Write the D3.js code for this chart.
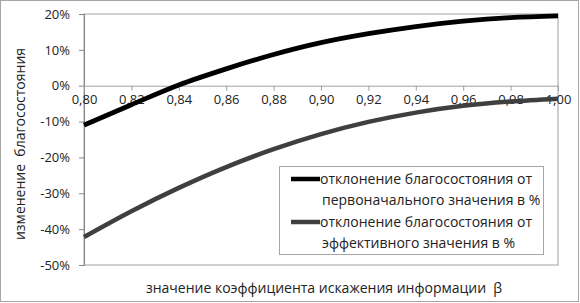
<!DOCTYPE html>
<html><head><meta charset="utf-8">
<script src="https://cdn.jsdelivr.net/npm/d3@7"></script>
<style>
html,body{margin:0;padding:0;background:#fff;}
svg{display:block;font-family:"Open Sans",sans-serif;}
text{white-space:pre;}
</style></head>
<body><svg id="c" width="580" height="303"></svg>
<script>
const betas = [0.80,0.82,0.84,0.86,0.88,0.90,0.92,0.94,0.96,0.98,1.00];
const seriesInitial = [-11.0,-5.3,0.2,4.7,8.7,12.0,14.5,16.5,18.0,19.0,19.5];
const seriesEffective = [-42.2,-35.0,-28.5,-22.7,-17.7,-13.5,-10.1,-7.5,-5.6,-4.4,-3.6];
const yTicks = [20,10,0,-10,-20,-30,-40,-50];
const xTicks = [0.80,0.82,0.84,0.86,0.88,0.90,0.92,0.94,0.96,0.98,1.00];
const seriesNames = [["отклонение благосостояния от","первоначального значения в %"],
                     ["отклонение благосостояния от","эффективного значения в %"]];
const xTitle = "значение коэффициента искажения информации  β";
const yTitle = "изменение  благосостояния";

const svg = d3.select("#c");
const x = d3.scaleLinear().domain([0.8,1.0]).range([84,558]);
const y = d3.scaleLinear().domain([-50,20]).range([265,14]);

// outer border
svg.append("rect").attr("x",0.5).attr("y",0.5).attr("width",578).attr("height",301)
  .attr("fill","#fff").attr("stroke","#a6a6a6");

// plot area border
svg.append("rect").attr("x",x(0.8)).attr("y",y(20)).attr("width",x(1)-x(0.8)).attr("height",y(-50)-y(20))
  .attr("fill","none").attr("stroke","#a0a0a0").attr("stroke-width",1);

// y axis
const yAxis = d3.axisLeft(y).tickValues(yTicks).tickSize(5).tickPadding(9).tickFormat(d=>d+"%");
const gy = svg.append("g").attr("transform",`translate(${x(0.8)},0)`).call(yAxis);
gy.select(".domain").attr("stroke","#868686");
gy.selectAll(".tick line").attr("stroke","#868686");
gy.selectAll("text").attr("font-size",13).attr("fill","#222").attr("font-family","Open Sans, sans-serif");

// x axis at 0
const xAxis = d3.axisBottom(x).tickValues(xTicks).tickSize(5).tickPadding(4)
  .tickFormat(d=>d3.format(".2f")(d).replace(".",","));
const gx = svg.append("g").attr("transform",`translate(0,${y(0)})`).call(xAxis);
gx.select(".domain").attr("stroke","#a0a0a0");
gx.selectAll(".tick line").attr("stroke","#a0a0a0");
gx.selectAll("text").attr("font-size",13).attr("fill","#222").attr("font-family","Open Sans, sans-serif");

// lines
const line = d3.line().curve(d3.curveMonotoneX);
const s1 = betas.map((b,i)=>[x(b),y(seriesInitial[i])]);
const s2 = betas.map((b,i)=>[x(b),y(seriesEffective[i])]);
svg.append("path").attr("d",line(s2)).attr("fill","none").attr("stroke","#3f3f3f").attr("stroke-width",4.5);
svg.append("path").attr("d",line(s1)).attr("fill","none").attr("stroke","#000").attr("stroke-width",4.8);

// legend
const lg = svg.append("g");
lg.append("rect").attr("x",279.5).attr("y",166.5).attr("width",264).attr("height",88)
  .attr("fill","#fff").attr("stroke","#a6a6a6");
const lcolors = ["#000","#3f3f3f"];
seriesNames.forEach((nm,i)=>{
  const cy = 179 + i*43;
  lg.append("line").attr("x1",291).attr("x2",320).attr("y1",cy).attr("y2",cy)
    .attr("stroke",lcolors[i]).attr("stroke-width",4.5);
  lg.append("text").attr("x",320).attr("y",cy+5).attr("font-size",14).attr("fill","#222").text(nm[0]);
  lg.append("text").attr("x",322).attr("y",cy+25.5).attr("font-size",14).attr("fill","#222").text(nm[1]);
});

// titles
svg.append("text").attr("x",324).attr("y",293).attr("text-anchor","middle")
  .attr("font-size",14).attr("fill","#222").text(xTitle);
svg.append("text").attr("transform","translate(25,144) rotate(-90)").attr("text-anchor","middle")
  .attr("font-size",14).attr("fill","#222").text(yTitle);
</script></body></html>
